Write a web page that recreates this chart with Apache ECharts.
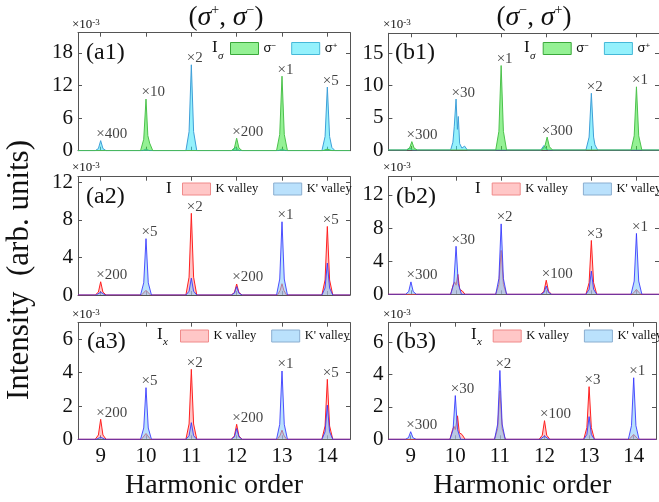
<!DOCTYPE html>
<html>
<head>
<meta charset="utf-8">
<script src="https://cdn.jsdelivr.net/npm/echarts@6/dist/echarts.min.js"></script>
<style>
  html, body { margin: 0; padding: 0; background: #fff; }
  #chart { width: 659px; height: 502px; }
</style>
</head>
<body>
<div id="chart"></div>
<script>
// harmonic orders (x axis) and the scale-factor tags written above each peak
const harmonics = [9, 10, 11, 12, 13, 14];

// ---- column a : (σ+, σ−) ----
const a1SigmaMinus = [[8.5,0],[9.88,0],[9.95,2.1],[10,9.5],[10.04,2.8],[10.08,1.4],[10.15,0],
  [11.88,0],[11.95,0.5],[12,2.3],[12.05,0.5],[12.12,0],
  [12.88,0],[12.95,3.0],[13,13.7],[13.05,3.0],[13.12,0],
  [13.9,0],[14,0.3],[14.1,0],[14.5,0]];
const a1SigmaPlus = [[8.5,0],[8.88,0],[8.95,0.4],[9,1.85],[9.05,0.4],[9.12,0],
  [9.92,0],[10,0.3],[10.08,0],
  [10.88,0],[10.95,3.5],[11,15.8],[11.05,3.5],[11.12,0],
  [11.9,0],[11.98,0.6],[12.06,0],
  [12.92,0],[13,0.3],[13.08,0],
  [13.88,0],[13.95,2.6],[14,11.7],[14.05,2.6],[14.1,0.6],[14.17,0],[14.5,0]];
const a1Tags = ['×400', '×10', '×2', '×200', '×1', '×5'];
const a1TagY = [1.85, 9.5, 15.8, 2.3, 13.7, 11.7];

const a2K = [[8.5,0],[8.88,0],[8.95,0.31],[9,1.41],[9.05,0.31],[9.12,0],
  [9.9,0],[10,0.5],[10.1,0],
  [10.88,0],[10.95,1.9],[11,8.7],[11.05,1.9],[11.12,0],
  [11.88,0],[11.95,0.26],[12,1.17],[12.05,0.26],[12.12,0],
  [12.9,0],[12.96,0.5],[13,1.2],[13.04,0.5],[13.1,0],
  [13.88,0],[13.95,1.6],[14,7.3],[14.05,1.6],[14.12,0],[14.5,0]];
const a2Kp = [[8.5,0],[8.9,0],[9,0.3],[9.1,0],
  [9.88,0],[9.95,1.3],[10,6.0],[10.05,1.3],[10.12,0],
  [10.88,0],[10.95,0.4],[11,1.8],[11.05,0.4],[11.12,0],
  [11.88,0],[11.95,0.2],[12,0.9],[12.05,0.2],[12.12,0],
  [12.88,0],[12.95,1.7],[13,7.8],[13.05,1.7],[13.12,0],
  [13.88,0],[13.95,0.75],[14,3.4],[14.05,0.75],[14.12,0],[14.5,0]];
const a2Tags = ['×200', '×5', '×2', '×200', '×1', '×5'];
const a2TagY = [1.41, 6.0, 8.7, 1.17, 7.8, 7.3];

const a3K = [[8.5,0],[8.88,0],[8.95,0.26],[9,1.2],[9.05,0.26],[9.12,0],
  [9.9,0],[10,0.35],[10.1,0],
  [10.88,0],[10.95,0.92],[11,4.2],[11.05,0.92],[11.12,0],
  [11.88,0],[11.95,0.2],[12,0.9],[12.05,0.2],[12.12,0],
  [12.9,0],[12.96,0.25],[13,0.55],[13.04,0.25],[13.1,0],
  [13.88,0],[13.95,0.8],[14,3.6],[14.05,0.8],[14.12,0],[14.5,0]];
const a3Kp = [[8.5,0],[8.9,0],[9,0.12],[9.1,0],
  [9.88,0],[9.95,0.68],[10,3.1],[10.05,0.68],[10.12,0],
  [10.88,0],[10.95,0.22],[11,1.0],[11.05,0.22],[11.12,0],
  [11.88,0],[11.95,0.15],[12,0.65],[12.05,0.15],[12.12,0],
  [12.88,0],[12.95,0.9],[13,4.1],[13.05,0.9],[13.12,0],
  [13.88,0],[13.95,0.45],[14,2.05],[14.05,0.45],[14.12,0],[14.5,0]];
const a3Tags = ['×200', '×5', '×2', '×200', '×1', '×5'];
const a3TagY = [1.2, 3.1, 4.2, 0.9, 4.1, 3.6];

// ---- column b : (σ−, σ+) ----
const b1SigmaMinus = [[8.5,0],[8.9,0],[8.97,0.3],[9.02,1.3],[9.07,0.3],[9.14,0],
  [10.88,0],[10.95,2.9],[11,13.1],[11.05,2.9],[11.12,0],
  [11.9,0],[11.97,0.6],[12.02,2.0],[12.07,0.5],[12.14,0],
  [13.88,0],[13.95,2.2],[14,9.8],[14.05,2.2],[14.12,0],[14.5,0]];
const b1SigmaPlus = [[8.5,0],[8.9,0],[8.97,0.3],[9.04,0],
  [9.88,0],[9.93,1.2],[9.96,3.6],[9.98,3.8],[10,7.9],[10.03,3.2],[10.05,5.2],[10.08,1.0],[10.13,0.3],[10.19,0.6],[10.25,0],
  [11.88,0],[11.95,0.7],[12,0.2],[12.05,0],
  [12.88,0],[12.95,2.0],[13,8.8],[13.05,2.0],[13.08,0.8],[13.14,0],[14.5,0]];
const b1Tags = ['×300', '×30', '×1', '×300', '×2', '×1'];
const b1TagY = [1.3, 7.9, 13.1, 2.0, 8.8, 9.8];

const b2K = [[8.5,0],
  [9.88,0],[9.94,1.2],[9.97,1.5],[10,1.1],[10.04,2.4],[10.08,0.6],[10.14,0.4],[10.2,0],
  [10.88,0],[10.95,1.2],[11,5.3],[11.05,1.2],[11.12,0],
  [11.88,0],[11.95,0.37],[12,1.7],[12.05,0.37],[12.12,0],
  [12.88,0],[12.95,1.4],[13,6.5],[13.05,1.4],[13.12,0],
  [13.9,0],[13.96,0.3],[14,0.6],[14.04,0.3],[14.1,0],[14.5,0]];
const b2Kp = [[8.5,0],[8.88,0],[8.95,0.33],[9,1.5],[9.05,0.33],[9.12,0],
  [9.88,0],[9.95,1.3],[10,5.8],[10.05,1.3],[10.12,0],
  [10.88,0],[10.95,1.9],[11,8.5],[11.05,1.9],[11.12,0],
  [11.88,0],[11.95,0.22],[12,1.0],[12.05,0.22],[12.12,0],
  [12.88,0],[12.95,0.6],[13,2.8],[13.05,0.6],[13.12,0],
  [13.88,0],[13.95,1.6],[14,7.35],[14.05,1.6],[14.12,0],[14.5,0]];
const b2Tags = ['×300', '×30', '×2', '×100', '×3', '×1'];
const b2TagY = [1.5, 5.8, 8.5, 1.7, 6.5, 7.35];

const b3K = [[8.5,0],
  [9.88,0],[9.94,0.6],[9.97,0.8],[10,0.6],[10.05,1.45],[10.09,0.4],[10.15,0.3],[10.22,0],
  [10.88,0],[10.95,0.66],[11,3.0],[11.05,0.66],[11.12,0],
  [11.88,0],[11.95,0.25],[12,1.15],[12.05,0.25],[12.12,0],
  [12.88,0],[12.95,0.72],[13,3.25],[13.05,0.72],[13.12,0],
  [13.9,0],[14,0.3],[14.1,0],[14.5,0]];
const b3Kp = [[8.5,0],[8.88,0],[8.95,0.1],[9,0.47],[9.05,0.1],[9.12,0],
  [9.88,0],[9.95,0.6],[10,2.7],[10.05,0.6],[10.12,0],
  [10.88,0],[10.95,0.94],[11,4.25],[11.05,0.94],[11.12,0],
  [11.9,0],[12,0.2],[12.1,0],
  [12.88,0],[12.95,0.3],[13,1.4],[13.05,0.3],[13.12,0],
  [13.88,0],[13.95,0.84],[14,3.8],[14.05,0.84],[14.12,0],[14.5,0]];
const b3Tags = ['×300', '×30', '×2', '×100', '×3', '×1'];
const b3TagY = [0.47, 2.7, 4.25, 1.15, 3.25, 3.8];

// y ranges / tick steps
const yMaxes = [21.7, 12.6, 7.0, 18.1, 14.2, 7.2];
const ySteps = [6, 4, 2, 5, 4, 2];

const serif = 'Liberation Serif';

const styles = {
  'sigma-': { line: '#4cc14c', area: 'rgba(60,230,60,0.55)', border: '#3aa83a' },
  'sigma+': { line: '#3f9fd8', area: 'rgba(60,230,250,0.55)', border: '#45b8d8' },
  'K valley': { line: '#ff2020', area: 'rgba(255,130,130,0.45)', border: '#f08a8a' },
  "K' valley": { line: 'rgba(50,50,255,0.85)', area: 'rgba(130,200,250,0.55)', border: '#8aaed0' }
};

const panels = [
  { grid: { left: 78, top: 32.7, width: 272, height: 118 }, lines: [['sigma+', a1SigmaPlus], ['sigma-', a1SigmaMinus]], tags: a1Tags, tagY: a1TagY, bottom: false },
  { grid: { left: 78, top: 176.7, width: 272, height: 118.3 }, lines: [['K valley', a2K], ["K' valley", a2Kp]], tags: a2Tags, tagY: a2TagY, bottom: false },
  { grid: { left: 78, top: 322.7, width: 272, height: 116.6 }, lines: [['K valley', a3K], ["K' valley", a3Kp]], tags: a3Tags, tagY: a3TagY, bottom: true },
  { grid: { left: 388.4, top: 33.3, width: 272, height: 116.7 }, lines: [['sigma+', b1SigmaPlus], ['sigma-', b1SigmaMinus]], tags: b1Tags, tagY: b1TagY, bottom: false },
  { grid: { left: 388.4, top: 176.7, width: 272, height: 117.6 }, lines: [['K valley', b2K], ["K' valley", b2Kp]], tags: b2Tags, tagY: b2TagY, bottom: false },
  { grid: { left: 388.4, top: 322.7, width: 272, height: 116.6 }, lines: [['K valley', b3K], ["K' valley", b3Kp]], tags: b3Tags, tagY: b3TagY, bottom: true }
];

const axisColor = '#555';
const grids = [], xAxes = [], yAxes = [], series = [];

function isStep(v, step) {
  return Math.abs(v / step - Math.round(v / step)) < 1e-6;
}

panels.forEach(function (p, i) {
  grids.push(Object.assign({ containLabel: false }, p.grid));
  ['bottom', 'top'].forEach(function (pos) {
    xAxes.push({
      gridIndex: i, type: 'value', position: pos, min: 8.5, max: 14.5,
      splitNumber: 6, minInterval: 1, maxInterval: 1,
      axisLine: { show: true, onZero: false, lineStyle: { color: axisColor, width: 1 } },
      axisTick: { show: true, inside: true, length: 4, lineStyle: { color: axisColor } },
      axisLabel: {
        show: pos === 'bottom' && p.bottom, fontFamily: serif, fontSize: 21, color: '#111', margin: 7,
        formatter: function (v) { return Number.isInteger(v) ? String(v) : ''; }
      },
      splitLine: { show: false },
      name: pos === 'bottom' && p.bottom ? 'Harmonic order' : '',
      nameLocation: 'middle', nameGap: 32,
      nameTextStyle: { fontFamily: serif, fontSize: 28, color: '#111' }
    });
  });
  ['left', 'right'].forEach(function (pos) {
    yAxes.push({
      gridIndex: i, type: 'value', position: pos, min: 0, max: yMaxes[i], interval: ySteps[i],
      axisLine: { show: true, onZero: false, lineStyle: { color: axisColor, width: 1 } },
      axisTick: { show: true, inside: true, length: 4, lineStyle: { color: axisColor } },
      axisLabel: {
        show: pos === 'left', fontFamily: serif, fontSize: 21, color: '#111', margin: 5,
        formatter: function (v) { return isStep(v, ySteps[i]) ? String(v) : ''; }
      },
      splitLine: { show: false }
    });
  });
  p.lines.forEach(function (l, k) {
    const st = styles[l[0]];
    series.push({
      name: l[0], type: 'line', xAxisIndex: i * 2, yAxisIndex: i * 2, data: l[1],
      symbol: 'none', showSymbol: false, silent: true, z: 2 + k,
      lineStyle: { width: 1, color: st.line },
      itemStyle: { color: st.area },
      areaStyle: { color: st.area, opacity: 1 }
    });
  });
  series.push({
    type: 'scatter', xAxisIndex: i * 2, yAxisIndex: i * 2, silent: true, z: 10,
    symbolSize: 1, itemStyle: { color: 'rgba(0,0,0,0)' },
    data: harmonics.map(function (h, k) { return { name: p.tags[k], value: [h, p.tagY[k]] }; }),
    label: {
      show: true, position: [-4, -6], align: 'left', verticalAlign: 'middle',
      fontFamily: serif, fontSize: 15, color: '#111', formatter: '{b}'
    }
  });
});

function legendAt(left, top, names) {
  return {
    left: left, top: top, width: 400, padding: 0, orient: 'horizontal',
    itemWidth: 28, itemHeight: 12, itemGap: 15,
    selectedMode: false, icon: 'rect',
    textStyle: {
      fontFamily: serif, fontSize: 12.5, color: '#111',
      rich: {
        s: { fontFamily: 'Liberation Sans', fontSize: 13, color: '#111' },
        u: { fontFamily: 'Liberation Sans', fontSize: 8, color: '#111', verticalAlign: 'top', lineHeight: 13 }
      }
    },
    formatter: function (n) {
      if (n === 'sigma-') return '{s|σ}{u|−}';
      if (n === 'sigma+') return '{s|σ}{u|+}';
      return n;
    },
    data: names.map(function (n) {
      const st = styles[n];
      return { name: n, itemStyle: { color: st.area, borderColor: st.border, borderWidth: 1 } };
    })
  };
}

const legends = [
  legendAt(230, 42, ['sigma-', 'sigma+']),
  legendAt(542.7, 42, ['sigma-', 'sigma+']),
  legendAt(182, 182.5, ['K valley', "K' valley"]),
  legendAt(491.7, 182.5, ['K valley', "K' valley"]),
  legendAt(180, 329.5, ['K valley', "K' valley"]),
  legendAt(492.7, 329.5, ['K valley', "K' valley"])
];

function txt(x, y, text, size, extra) {
  return Object.assign({
    type: 'text', x: x, y: y, silent: true,
    style: Object.assign({ text: text, fontFamily: serif, fontSize: size, fill: '#111', align: 'left', verticalAlign: 'middle' }, extra || {})
  });
}

const expRich = {
  a: { fontFamily: serif, fontSize: 13, color: '#111', lineHeight: 14 },
  b: { fontFamily: serif, fontSize: 9, color: '#111', verticalAlign: 'top', lineHeight: 14 }
};
const titleRich = {
  t: { fontFamily: serif, fontSize: 27, color: '#111', lineHeight: 30 },
  s: { fontFamily: serif, fontSize: 28, fontStyle: 'italic', color: '#111', lineHeight: 30 },
  u: { fontFamily: serif, fontSize: 14, color: '#111', verticalAlign: 'top', lineHeight: 30 }
};

const graphic = [
  txt(226, 18, '{t|(}{s|σ}{u|+}{t|, }{s|σ}{u|−}{t|)}', 27, { align: 'center', rich: titleRich }),
  txt(534, 18, '{t|(}{s|σ}{u|−}{t|, }{s|σ}{u|+}{t|)}', 27, { align: 'center', rich: titleRich }),
  // ×10^-3 factors
  txt(72, 25, '{a|×10}{b|-3}', 13, { rich: expRich }),
  txt(72, 168, '{a|×10}{b|-3}', 13, { rich: expRich }),
  txt(72, 315, '{a|×10}{b|-3}', 13, { rich: expRich }),
  txt(383, 25, '{a|×10}{b|-3}', 13, { rich: expRich }),
  txt(383, 168, '{a|×10}{b|-3}', 13, { rich: expRich }),
  txt(383, 315, '{a|×10}{b|-3}', 13, { rich: expRich }),
  // panel labels
  txt(86, 53, '(a1)', 24), txt(86, 196.5, '(a2)', 24), txt(87, 341.5, '(a3)', 24),
  txt(395, 53, '(b1)', 24), txt(396, 196.5, '(b2)', 24), txt(396, 341.5, '(b3)', 24),
  // legend prefixes
  txt(212, 48, 'I', 17), txt(218, 56, 'σ', 11, { fontStyle: 'italic' }),
  txt(524, 48, 'I', 17), txt(530, 56, 'σ', 11, { fontStyle: 'italic' }),
  txt(166, 189, 'I', 17),
  txt(475, 189, 'I', 17),
  txt(157, 335, 'I', 17), txt(163, 342, 'x', 11, { fontStyle: 'italic' }),
  txt(471, 335, 'I', 17), txt(477, 342, 'x', 11, { fontStyle: 'italic' }),
  // shared y title
  { type: 'text', x: 20, y: 270, rotation: Math.PI / 2, silent: true,
    style: { text: 'Intensity  (arb. units)', fontFamily: serif, fontSize: 31, fill: '#111', align: 'center', verticalAlign: 'middle' } }
];

const chart = echarts.init(document.getElementById('chart'), null, { renderer: 'canvas' });
chart.setOption({
  animation: false,
  backgroundColor: '#fff',
  grid: grids,
  xAxis: xAxes,
  yAxis: yAxes,
  legend: legends,
  series: series,
  graphic: graphic
});
</script>
</body>
</html>
